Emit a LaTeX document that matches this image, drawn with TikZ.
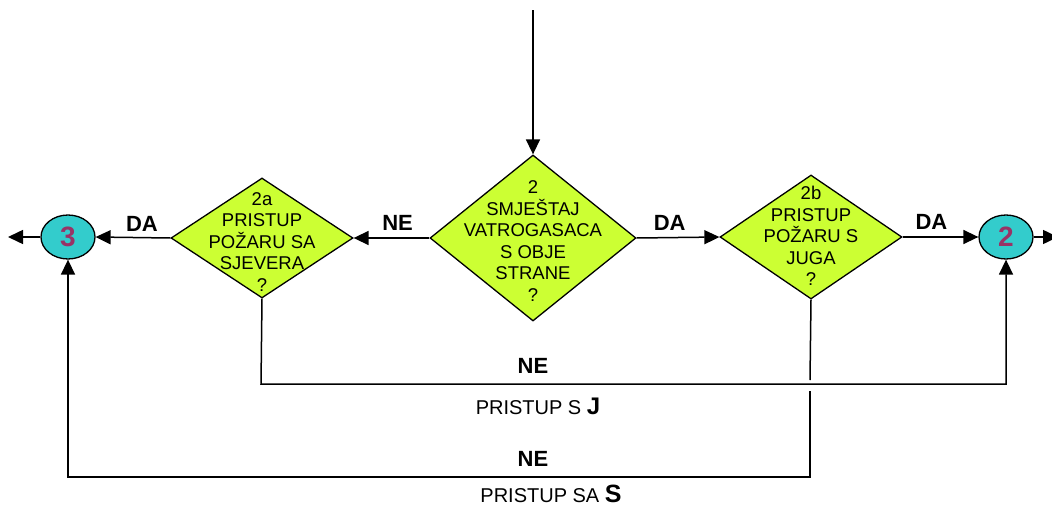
\documentclass[tikz,border=0pt]{standalone}
\usepackage{fontspec}
\setmainfont{Liberation Sans}
\usetikzlibrary{shapes.geometric,arrows.meta}
\definecolor{diafill}{RGB}{204,255,51}
\definecolor{circfill}{RGB}{51,204,204}
\definecolor{numcol}{RGB}{153,51,102}
\tikzset{
  dia/.style={diamond, draw=black, line width=1.3pt, fill=diafill, inner sep=0pt},
  diatext/.style={align=center, inner sep=0pt, font=\fontsize{18.5}{21.5}\selectfont},
  conn/.style={ellipse, draw=black, line width=1.3pt, fill=circfill, minimum width=54pt, minimum height=44pt, inner sep=0pt, text=numcol, font=\fontsize{28}{30}\selectfont\bfseries},
  arr/.style={line width=1.5pt, -{Triangle[length=15pt,width=14pt]}},
  ln/.style={line width=1.5pt},
  lab/.style={font=\fontsize{22}{24}\selectfont\bfseries, inner sep=0pt},
  sub/.style={font=\fontsize{20}{22}\selectfont, inner sep=0pt}
}
\begin{document}
\begin{tikzpicture}[x=1pt,y=-1pt]
\useasboundingbox (0,0) rectangle (1052,506);
% nodes
\coordinate (start) at (533,10);
\node[dia, minimum width=206pt, minimum height=166pt] (c) at (533,238) {};
\node[diatext] (ct) at (533,241) {2\\SMJEŠTAJ\\VATROGASACA\\S OBJE\\STRANE\\?};
\node[dia, minimum width=182pt, minimum height=120pt] (a) at (262,238) {};
\node[diatext] (at) at (262,242) {2a\\PRISTUP\\POŽARU SA\\SJEVERA\\?};
\node[dia, minimum width=182pt, minimum height=124pt] (b) at (811,237) {};
\node[diatext] (bt) at (811,236) {2b\\PRISTUP\\POŽARU S\\JUGA\\?};
\node[conn] (three) at (68,237) {3};
\node[conn] (two) at (1006,237) {2};
\coordinate (outl) at (8,237);
\coordinate (outr) at (1058,237);
\coordinate (j1) at (261,384);
\coordinate (k1) at (810,380);
\coordinate (k2) at (810,391);
\coordinate (k3) at (68,477);
% connectors
\draw[arr] (start) -- (c.north);
\draw[arr] (c.west) -- node[lab, pos=0.42, yshift=15pt] (lne) {NE} (a.east);
\draw[arr] (a.west) -- node[lab, pos=0.38, yshift=14pt] (lda1) {DA} (three.east);
\draw[arr] (c.east) -- node[lab, pos=0.4, yshift=15pt] (lda2) {DA} (b.west);
\draw[arr] (b.east) -- node[lab, pos=0.38, yshift=15pt] (lda3) {DA} (two.west);
\draw[arr] (three.west) -- (outl);
\draw[arr] (two.east) -- (outr);
\draw[arr] (a.south) -- (j1) -| (two.south);
\draw[ln] (b.south) -- (k1);
\draw[arr] (k2) |- (k3) -- (three.south);
% bottom labels
\node[lab] (ne1) at (533,366) {NE};
\node[sub] (pj) at (538,406) {PRISTUP S {\fontsize{24}{26}\selectfont\bfseries J}};
\node[lab] (ne2) at (533,459) {NE};
\node[sub] (ps) at (551,494) {PRISTUP SA {\fontsize{25}{27}\selectfont\bfseries S}};
\end{tikzpicture}
\end{document}
